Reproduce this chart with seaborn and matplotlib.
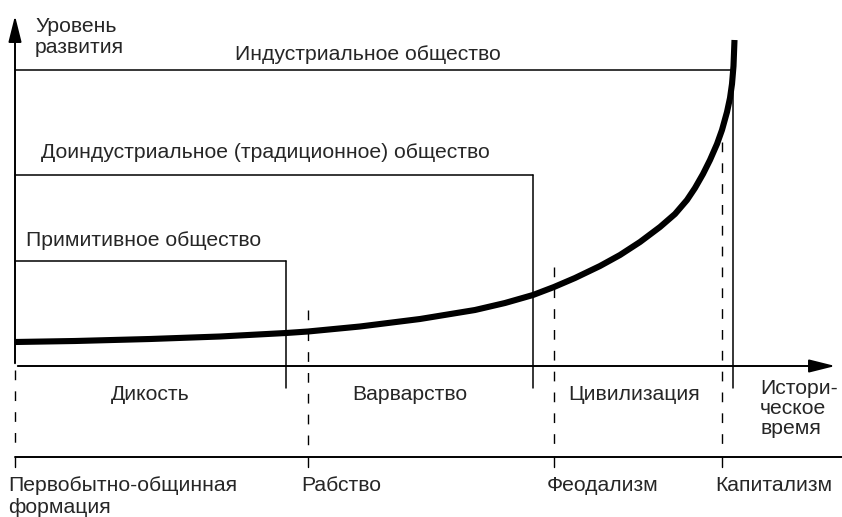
import numpy as np
import pandas as pd
import seaborn as sns
import matplotlib.pyplot as plt

# development curve (historical time vs level of development)
curve_t = [0, 60, 135, 205, 271, 293, 345, 405, 460, 490, 518, 539, 560, 585, 605,
           625, 645, 660, 672, 680, 688, 695, 702, 707, 712, 715, 717, 718.5, 719.5]
curve_level = [24, 25, 27, 29.5, 33, 34.5, 39.5, 47, 56, 63, 71, 79, 88, 100, 111,
               124, 139, 152, 166, 178, 192, 206, 222, 236, 254, 268, 282, 300, 326]

# societies: label, end time, level of the top line
societies = ["Примитивное общество",
             "Доиндустриальное (традиционное) общество",
             "Индустриальное общество"]
society_end = [271, 518, 718]
society_top = [105, 191, 296]

# stages and formations
stages = ["Дикость", "Варварство", "Цивилизация"]
stage_mid = [135, 395, 619]
formations = [["Первобытно-общинная", "формация"], ["Рабство"], ["Феодализм"], ["Капитализм"]]
formation_start = [0, 293, 539, 707]
formation_line_top = [-4, 56, 99, 224]

FS = 15.2

sns.set_theme(style="white")
plt.rcParams["font.family"] = ["Liberation Sans", "DejaVu Sans"]

fig = plt.figure(figsize=(8.42, 5.17), dpi=100)
ax = fig.add_axes([0, 0, 1, 1])
ax.set_xlim(-15, 827)
ax.set_ylim(-151, 366)
ax.axis("off")


def lines(x, y0, text_lines, step, **kw):
    for i, s in enumerate(text_lines):
        ax.text(x, y0 - i * step, s, fontsize=FS, va="baseline", **kw)


df = pd.DataFrame({"t": curve_t, "level": curve_level})
sns.lineplot(data=df, x="t", y="level", ax=ax, color="black", lw=4.4,
             solid_capstyle="butt", solid_joinstyle="round", sort=False, zorder=5)

# axes with arrows
arrow = dict(arrowstyle="-|>,head_length=0.8,head_width=0.2",
             mutation_scale=20, lw=1.4, color="black")
ax.annotate("", xy=(0, 353), xytext=(0, 0), arrowprops=arrow)
ax.annotate("", xy=(823, 0), xytext=(0, 0), arrowprops=arrow)

# society boxes
for name, end, top in zip(societies, society_end, society_top):
    ax.plot([0, end], [top, top], color="black", lw=1.1)
    ax.plot([end, end], [top, -22], color="black", lw=1.1)
ax.text(220, 306, societies[2], fontsize=FS, va="baseline")
ax.text(26, 208, societies[1], fontsize=FS, va="baseline")
ax.text(11, 120, societies[0], fontsize=FS, va="baseline")

# formation boundaries
for t0, top in zip(formation_start, formation_line_top):
    ax.plot([t0, t0], [top, -79], color="black", lw=1.0, ls=(0, (7, 8)))
    ax.plot([t0, t0], [-91, -101], color="black", lw=1.0)
ax.plot([0, 827], [-91, -91], color="black", lw=1.4)

for name, mid in zip(stages, stage_mid):
    ax.text(mid, -34, name, fontsize=FS, ha="center", va="baseline")

for name, t0 in zip(formations, formation_start):
    lines(t0 - 7, -125, name, 22, ha="left")

lines(20, 334, ["Уровень", "развития"], 21, ha="left")
lines(745, -28, ["Истори-", "ческое", "время"], 20, ha="left")

fig.savefig("out.png", dpi=100)
